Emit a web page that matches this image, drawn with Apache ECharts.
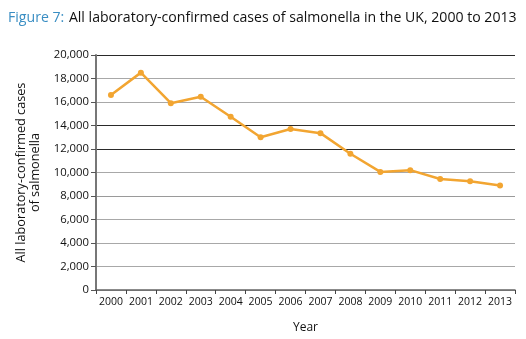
<!DOCTYPE html>
<html>
<head>
<meta charset="utf-8">
<script src="https://cdn.jsdelivr.net/npm/echarts@6/dist/echarts.min.js"></script>
<style>
  html, body { margin: 0; padding: 0; background: #fff; }
  #chart { width: 526px; height: 339px; }
</style>
</head>
<body>
<div id="chart"></div>
<script>
// Laboratory-confirmed salmonella cases in the UK, by year
const years = ['2000','2001','2002','2003','2004','2005','2006','2007','2008','2009','2010','2011','2012','2013'];
const cases = [16600, 18500, 15900, 16450, 14750, 13000, 13700, 13350, 11600, 10050, 10200, 9450, 9250, 8900];

// Gridline shades, one per tick from 0 up to 20,000
const gridShades = ['#9a9a9a','#a8a8a8','#a8a8a8','#a8a8a8','#9a9a9a','#a8a8a8','#2a2a2a','#2a2a2a','#a8a8a8','#a8a8a8','#2a2a2a'];

const font = '"Open Sans", "Noto Sans", sans-serif';
const chart = echarts.init(document.getElementById('chart'), null, { renderer: 'canvas' });

chart.setOption({
  backgroundColor: '#fff',
  animation: false,
  title: {
    left: 3,
    top: 4,
    text: '{fig|Figure 7:} {main|All laboratory-confirmed cases of salmonella in the UK, 2000 to 2013}',
    textStyle: {
      fontFamily: font,
      fontWeight: 'normal',
      rich: {
        fig: { color: '#3a8ec3', fontSize: 14.1, fontWeight: 'normal', fontFamily: font },
        main: { color: '#111', fontSize: 14.1, fontWeight: 'normal', fontFamily: font }
      }
    }
  },
  grid: { left: 96, right: 11, top: 55, bottom: 49 },
  xAxis: {
    type: 'category',
    data: years,
    boundaryGap: true,
    name: 'Year',
    nameLocation: 'middle',
    nameGap: 32,
    nameTextStyle: { fontFamily: font, fontSize: 12, color: '#111' },
    axisLine: { lineStyle: { color: '#666', width: 1.5 } },
    axisTick: { show: true, alignWithLabel: false, length: 4, lineStyle: { color: '#444' } },
    axisLabel: { fontFamily: font, fontSize: 10.5, color: '#111', margin: 7, interval: 0 },
    splitLine: { show: false }
  },
  yAxis: {
    type: 'value',
    min: 0,
    max: 20000,
    interval: 2000,
    name: 'All laboratory-confirmed cases\nof salmonella',
    nameLocation: 'middle',
    nameGap: 52,
    nameRotate: 90,
    nameTextStyle: { fontFamily: font, fontSize: 12.7, color: '#111', lineHeight: 14 },
    axisLine: { show: true, lineStyle: { color: '#777', width: 2 } },
    axisTick: { show: true, length: 5, lineStyle: { color: '#555' } },
    axisLabel: {
      fontFamily: font, fontSize: 11.3, color: '#111', margin: 7,
      formatter: v => v.toLocaleString('en-GB')
    },
    splitLine: { show: true, lineStyle: { color: gridShades, width: 1.2 } }
  },
  series: [{
    type: 'line',
    data: cases,
    color: '#f2a531',
    lineStyle: { width: 2.5, color: '#f2a531' },
    symbol: 'circle',
    symbolSize: 6,
    itemStyle: { color: '#f2a531' }
  }]
});
</script>
</body>
</html>
